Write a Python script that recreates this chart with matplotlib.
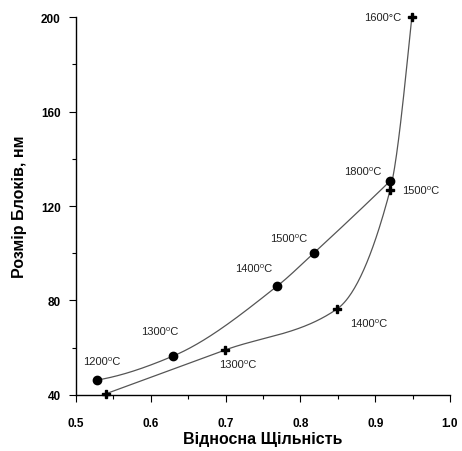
import numpy as np
import matplotlib
matplotlib.use("Agg")
import matplotlib.pyplot as plt
from matplotlib.ticker import MultipleLocator

# Sintering series (filled circles)
circ_x = [0.528, 0.630, 0.769, 0.818, 0.920]
circ_y = [46.3, 56.5, 86.1, 100.1, 130.6]
circ_labels = ["1200⁰C", "1300⁰C", "1400⁰C", "1500⁰C", "1800⁰C"]

# Sintering series (crosses)
cross_x = [0.540, 0.699, 0.849, 0.920, 0.949]
cross_y = [40.5, 59.0, 76.4, 126.8, 200.0]
cross_labels = [None, "1300⁰C", "1400⁰C", "1500⁰C", "1600°C"]

x_ticks = [0.5, 0.6, 0.7, 0.8, 0.9, 1.0]
y_ticks = [40, 80, 120, 160, 200]


def pchip(x, y, xs):
    """Monotone piecewise cubic Hermite curve through (x, y)."""
    x = np.asarray(x, float)
    y = np.asarray(y, float)
    h = np.diff(x)
    d = np.diff(y) / h
    n = len(x)
    m = np.zeros(n)
    for k in range(1, n - 1):
        if d[k - 1] * d[k] > 0:
            w1 = 2 * h[k] + h[k - 1]
            w2 = h[k] + 2 * h[k - 1]
            m[k] = (w1 + w2) / (w1 / d[k - 1] + w2 / d[k])
    m[0] = ((2 * h[0] + h[1]) * d[0] - h[0] * d[1]) / (h[0] + h[1])
    if np.sign(m[0]) != np.sign(d[0]):
        m[0] = 0
    m[-1] = ((2 * h[-1] + h[-2]) * d[-1] - h[-1] * d[-2]) / (h[-1] + h[-2])
    if np.sign(m[-1]) != np.sign(d[-1]):
        m[-1] = 0
    out = np.empty_like(xs)
    for i, xv in enumerate(xs):
        k = min(max(np.searchsorted(x, xv) - 1, 0), n - 2)
        t = (xv - x[k]) / h[k]
        h00 = 2 * t**3 - 3 * t**2 + 1
        h10 = t**3 - 2 * t**2 + t
        h01 = -2 * t**3 + 3 * t**2
        h11 = t**3 - t**2
        out[i] = h00 * y[k] + h10 * h[k] * m[k] + h01 * y[k + 1] + h11 * h[k] * m[k + 1]
    return out


plt.rcParams["font.family"] = ["Liberation Sans", "DejaVu Sans"]

fig = plt.figure(figsize=(4.62, 4.52), dpi=100)
ax = fig.add_axes([0.1645, 0.124, 0.8095, 0.836])

xs1 = np.linspace(circ_x[0], circ_x[-1], 300)
ax.plot(xs1, pchip(circ_x, circ_y, xs1), color="#555555", lw=0.9)
xs2 = np.linspace(cross_x[0], cross_x[-1], 300)
ax.plot(xs2, pchip(cross_x, cross_y, xs2), color="#555555", lw=0.9)

ax.plot(circ_x, circ_y, "o", color="black", ms=6, clip_on=False)
ax.plot(cross_x, cross_y, "P", color="black", ms=6, clip_on=False)

circ_off = [(5, 19), (-13, 25), (-23, 18), (-25, 15), (-27, 10)]
cross_off = [None, (13, -14), (32, -14), (31, 0), (-29, 0)]
for xv, yv, lab, off in zip(circ_x, circ_y, circ_labels, circ_off):
    ax.annotate(lab, (xv, yv), xytext=off, textcoords="offset pixels",
                ha="center", va="center", fontsize=8, color="#222222")
for xv, yv, lab, off in zip(cross_x, cross_y, cross_labels, cross_off):
    if lab is None:
        continue
    ax.annotate(lab, (xv, yv), xytext=off, textcoords="offset pixels",
                ha="center", va="center", fontsize=8, color="#222222")

ax.set_xlim(0.5, 1.0)
ax.set_ylim(40, 200)
ax.set_xticks(x_ticks)
ax.set_xticklabels([f"{t:.1f}" for t in x_ticks], fontweight="bold", fontsize=8.5)
ax.set_yticks(y_ticks)
ax.set_yticklabels([str(t) for t in y_ticks], fontweight="bold", fontsize=8.5)
ax.xaxis.set_minor_locator(MultipleLocator(0.05))
ax.yaxis.set_minor_locator(MultipleLocator(20))
ax.tick_params(axis="both", which="major", direction="out", length=5, width=0.8, pad=6)
ax.tick_params(axis="x", which="major", pad=11)
ax.tick_params(axis="both", which="minor", direction="out", length=3, width=0.8)

for s in ("top", "right"):
    ax.spines[s].set_visible(False)
for s in ("left", "bottom"):
    ax.spines[s].set_linewidth(1.0)

ax.set_xlabel("Відносна Щільність", fontsize=11.5, fontweight="bold", labelpad=1)
ax.set_ylabel("Розмір Блоків, нм", fontsize=11.5, fontweight="bold", labelpad=10)

fig.savefig("out.png", dpi=100)
